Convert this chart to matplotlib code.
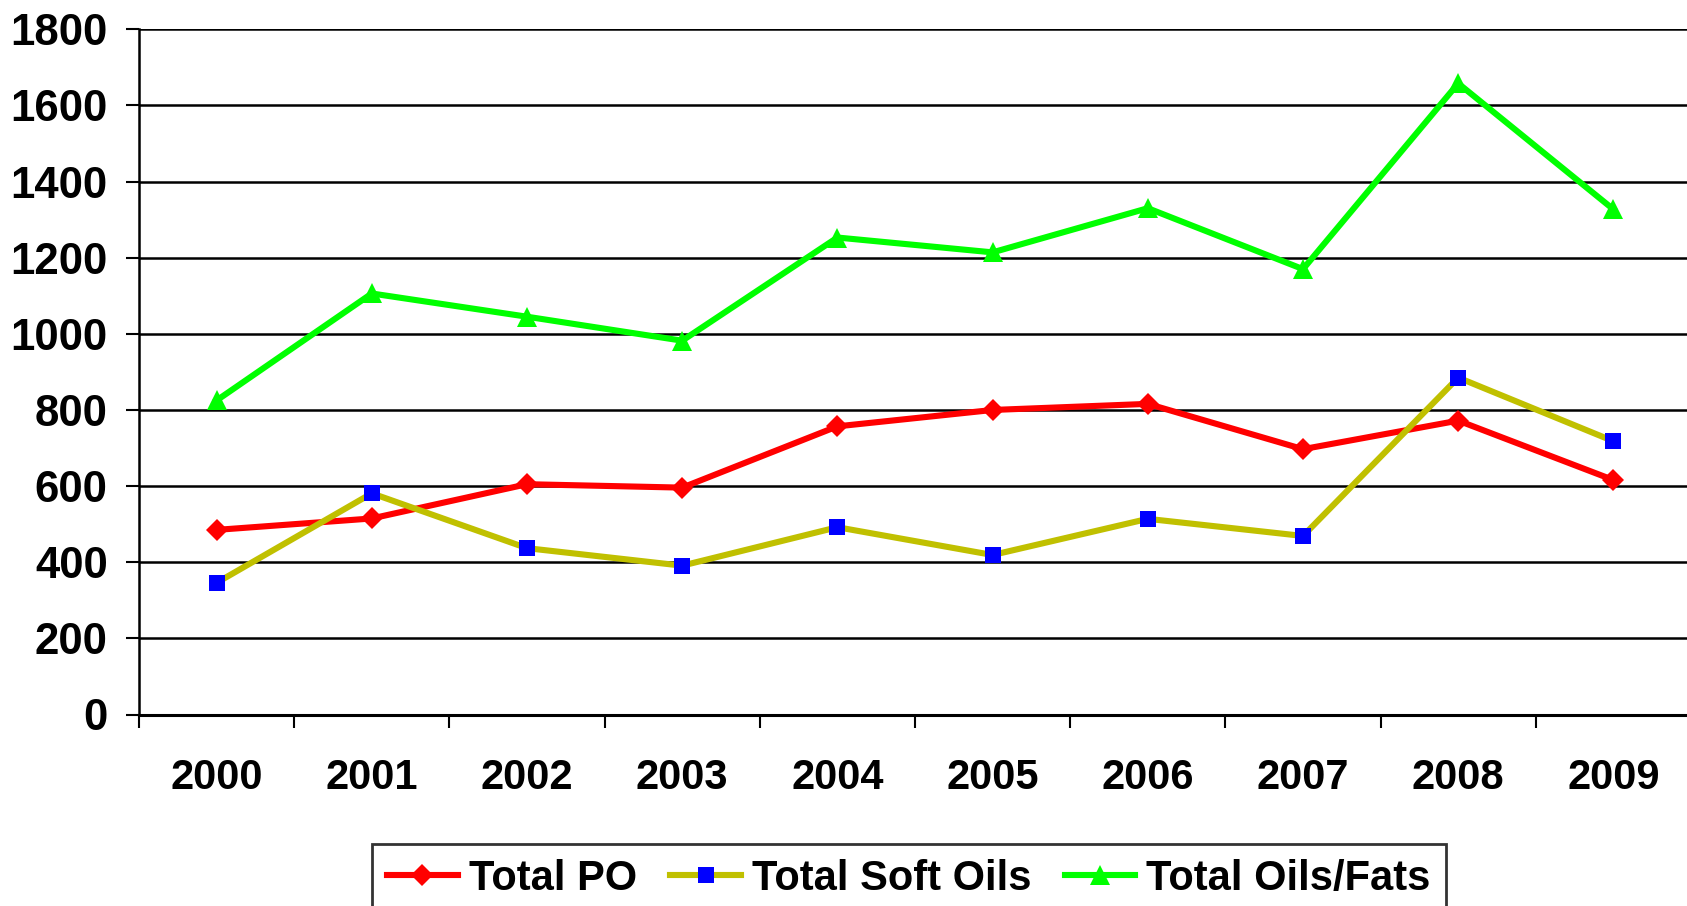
import matplotlib
matplotlib.use("Agg")
import matplotlib.pyplot as plt
from matplotlib.ticker import FixedLocator

plt.rcParams['font.family'] = ['Liberation Sans', 'DejaVu Sans']
plt.rcParams['font.weight'] = 'bold'

years = ['2000', '2001', '2002', '2003', '2004', '2005', '2006', '2007', '2008', '2009']
total_po = [485, 515, 605, 596, 757, 800, 816, 697, 772, 616]
total_soft_oils = [346, 581, 437, 391, 492, 419, 514, 469, 885, 718]
total_oils_fats = [825, 1106, 1045, 982, 1253, 1214, 1330, 1170, 1658, 1327]
y_ticks = [0, 200, 400, 600, 800, 1000, 1200, 1400, 1600, 1800]

W, H = 1687, 906
fig = plt.figure(figsize=(W / 100, H / 100), dpi=100)
ax = fig.add_axes([139 / W, 191.5 / H, 1552 / W, 685.2 / H])

x = list(range(len(years)))
lw = 4.4
l1, = ax.plot(x, total_po, color='#FF0000', lw=lw, marker='D', markersize=11,
              markeredgewidth=0, zorder=3)
l2, = ax.plot(x, total_soft_oils, color='#C0C000', lw=lw, marker='s', markersize=11.5,
              markerfacecolor='#0000FF', markeredgewidth=0, zorder=3)
l3, = ax.plot(x, total_oils_fats, color='#00FF00', lw=lw, marker='^', markersize=14.5,
              markeredgewidth=0, zorder=3)

ax.set_xlim(-0.5, len(years) - 0.5)
ax.set_ylim(0, 1800)
ax.set_yticks(y_ticks)
ax.set_yticklabels([str(v) for v in y_ticks], fontsize=31.5, fontweight='bold')
ax.set_xticks(x)
ax.set_xticklabels(years, fontsize=30, fontweight='bold')
ax.xaxis.set_minor_locator(FixedLocator([i - 0.5 for i in range(len(years) + 1)]))
ax.tick_params(axis='x', which='major', length=0, pad=31)
ax.tick_params(axis='x', which='minor', length=9.5, width=1.5, direction='out', color='black')
ax.tick_params(axis='y', which='major', length=9.5, width=1.5, direction='out', pad=13, color='black')

ax.grid(axis='y', color='black', linewidth=1.8)
ax.set_axisbelow(True)
for s in ['top', 'right']:
    ax.spines[s].set_visible(False)
ax.spines['left'].set_linewidth(1.8)
ax.spines['bottom'].set_linewidth(2.2)

leg = fig.legend([l1, l2, l3], ['Total PO', 'Total Soft Oils', 'Total Oils/Fats'],
                 loc='upper left', bbox_to_anchor=(372 / W, 1 - 844 / H),
                 ncol=3, frameon=True, fancybox=False,
                 edgecolor='black', borderaxespad=0, borderpad=0.36,
                 handlelength=1.7, handletextpad=0.26, columnspacing=0.8,
                 prop={'weight': 'bold', 'size': 30})
leg.get_frame().set_linewidth(2)

fig.savefig('out.png', dpi=100)
